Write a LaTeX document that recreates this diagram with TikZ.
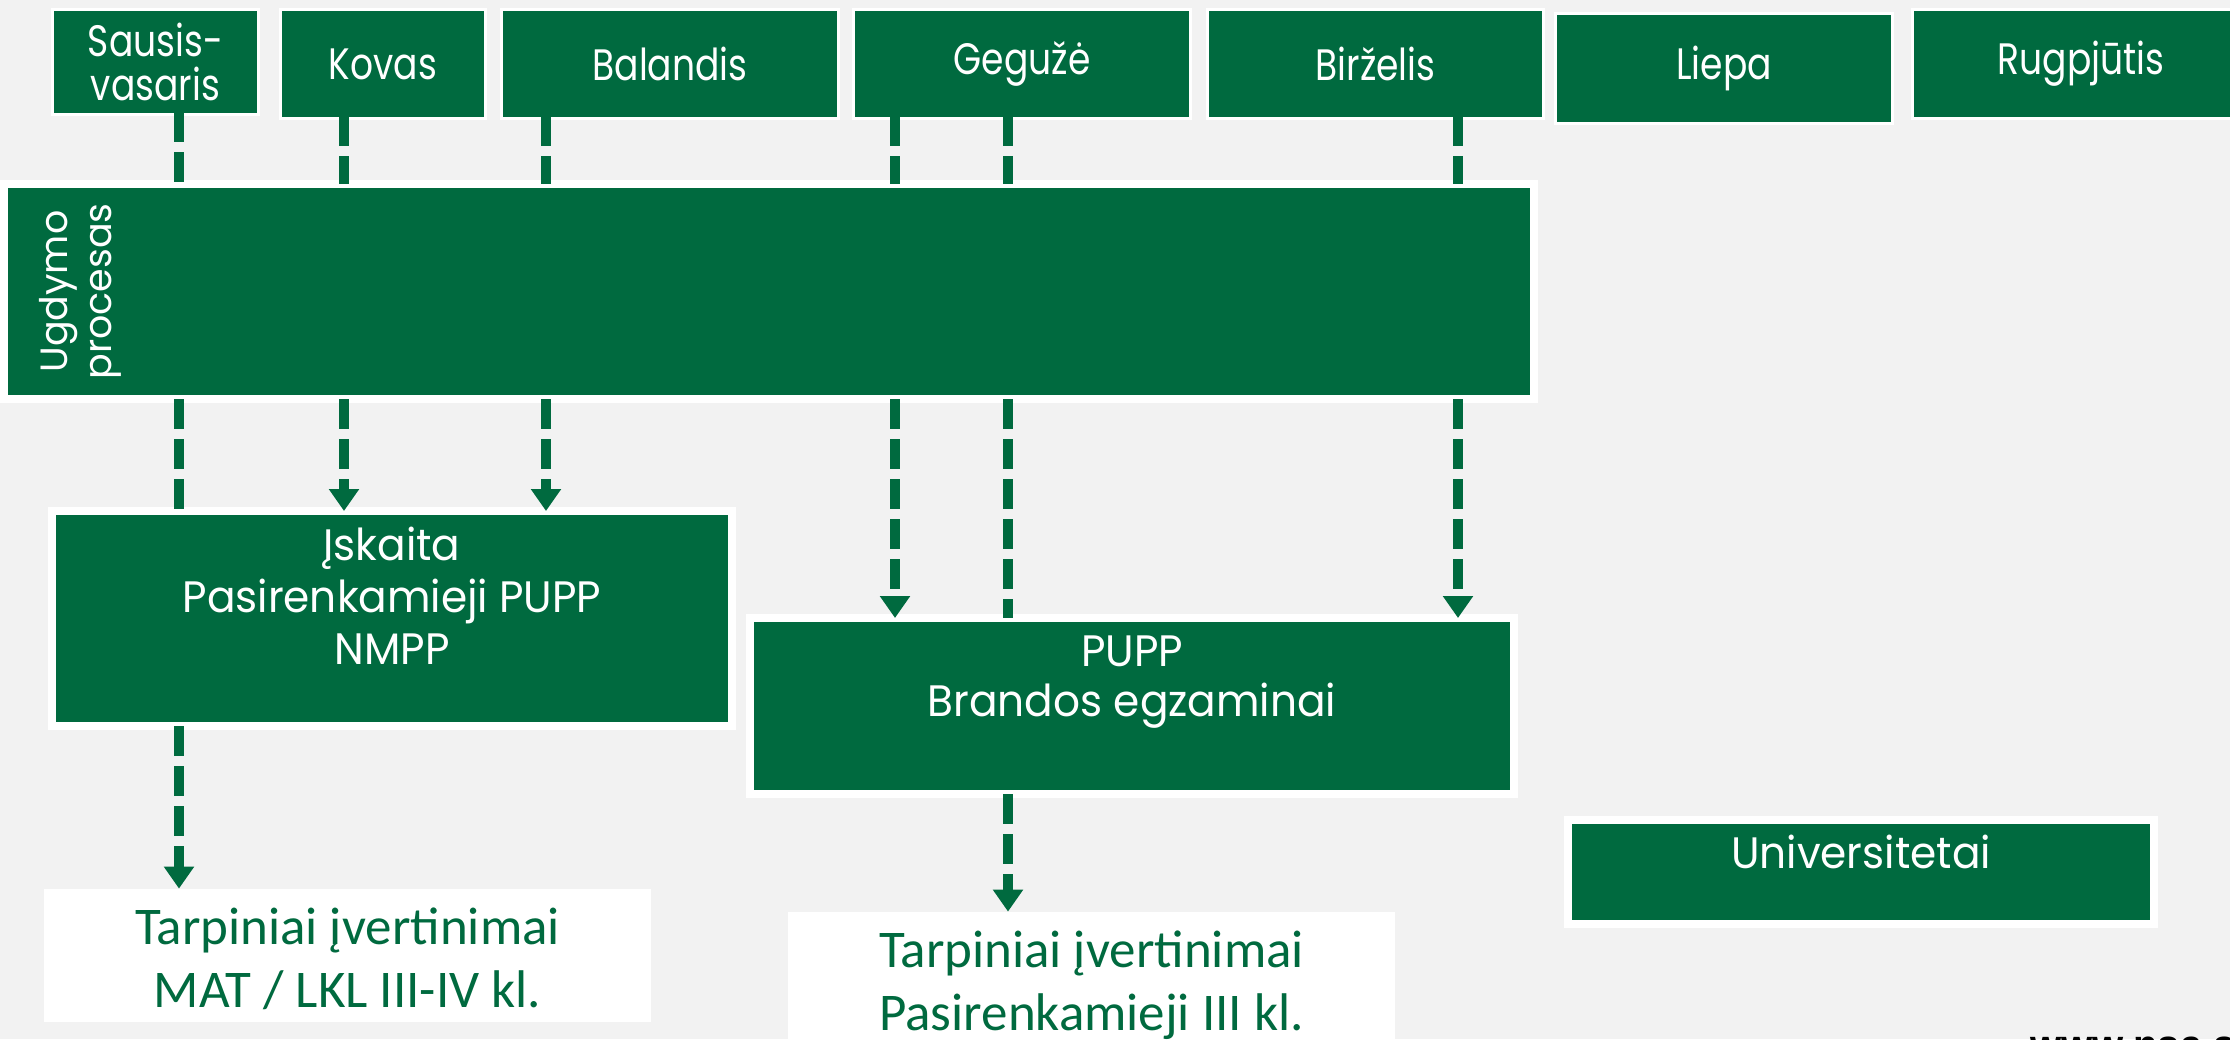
\documentclass[tikz,border=0pt]{standalone}
\usepackage{fontspec}
\setmainfont{Poppins}[FakeStretch=0.82]
\newfontfamily\widefont{Poppins}[FakeStretch=0.96]
\newfontfamily\ugfont{Poppins}
\newfontfamily\calibrifont{Carlito}
\newfontfamily\urlfont{Liberation Sans}
\usetikzlibrary{arrows.meta}
\definecolor{grn}{RGB}{0,106,63}
\definecolor{bgc}{RGB}{242,242,242}
\newcommand\monthfont{\fontsize{22}{22}\selectfont}
\newcommand\boxfont{\widefont\fontsize{22}{26}\selectfont}
\newcommand\tarpfont{\calibrifont\fontsize{26.5}{31.5}\selectfont}
\begin{document}
\begin{tikzpicture}[x=0.5pt,y=-0.5pt,
  mbox/.style={fill=grn, draw=white, line width=1.5pt, inner sep=0pt, text=white, align=center, font=\monthfont},
  bbox/.style={fill=grn, draw=white, line width=4pt, inner sep=0pt},
  wbox/.style={fill=white, draw=none, inner sep=0pt},
  wlbl/.style={text=white, inner sep=0pt, align=center, font=\boxfont},
  glbl/.style={text=grn, inner sep=0pt, align=center, font=\tarpfont},
  seg/.style={draw=grn, line width=5pt, dash pattern=on 15pt off 5pt, shorten <=-2pt, shorten >=-2pt},
  arr/.style={seg, -{Triangle[width=14.5pt,length=11pt]}}]
\fill[bgc] (0,0) rectangle (2230,1039);
\useasboundingbox (0,0) rectangle (2230,1039);

% month boxes
\node[mbox, minimum width=103pt, minimum height=52.5pt] (sausis) at (155.5,62) {Sausis-\\vasaris};
\node[mbox, minimum width=102.5pt, minimum height=54.5pt] (kovas) at (383,64) {Kovas};
\node[mbox, minimum width=168.5pt, minimum height=54.5pt] (balandis) at (670,64) {Balandis};
\node[mbox, minimum width=168.5pt, minimum height=54.5pt] (geguze) at (1022,64) {Gegužė};
\node[mbox, minimum width=168pt, minimum height=54.5pt] (birzelis) at (1375.5,64) {Birželis};
\node[mbox, minimum width=168.5pt, minimum height=55pt] (liepa) at (1724,68.5) {Liepa};
\node[mbox, minimum width=168.5pt, minimum height=54.5pt] (rugpjutis) at (2081,64) {Rugpjūtis};

% big boxes
\node[bbox, minimum width=765pt, minimum height=107.5pt] (ugdymo) at (769,291.5) {};
\node[wlbl, rotate=90, anchor=center, font=\ugfont\fontsize{19}{22}\selectfont] (ugdymotxt) at (80,291.5) {Ugdymo\\procesas};

\node[bbox, minimum width=340pt, minimum height=107.5pt] (iskaita) at (392,618.5) {};
\node[wlbl, anchor=north] (iskaitatxt) at (392,527) {Įskaita\\Pasirenkamieji PUPP\\NMPP};

\node[bbox, minimum width=382pt, minimum height=88pt] (pupp) at (1132,706) {};
\node[wlbl, anchor=north, font=\widefont\fontsize{22}{25}\selectfont] (pupptxt) at (1132,635) {PUPP\\Brandos egzaminai};

\node[bbox, minimum width=293pt, minimum height=52pt] (univ) at (1861,872) {};
\node[wlbl, anchor=base] (univtxt) at (1861,868) {Universitetai};

\node[wbox, minimum width=303.5pt, minimum height=66.5pt] (tarp1) at (347.5,955.5) {};
\node[glbl, anchor=north] (tarp1txt) at (347.5,907) {Tarpiniai įvertinimai\\MAT / LKL III-IV kl.};

\node[wbox, minimum width=303.5pt, minimum height=68pt] (tarp2) at (1091.5,980) {};
\node[glbl, anchor=north] (tarp2txt) at (1091.5,930) {Tarpiniai įvertinimai\\Pasirenkamieji III kl.};

\node[anchor=base west, inner sep=0pt, font=\urlfont\bfseries\fontsize{20}{24}\selectfont] (www) at (2030,1058) {www.nsa.smm.lt};

% connector columns
\coordinate (xa) at (179,0);
\coordinate (xb) at (344,0);
\coordinate (xc) at (546,0);
\coordinate (xd) at (895,0);
\coordinate (xe) at (1008,0);
\coordinate (xf) at (1458,0);

% Sausis-vasaris
\draw[seg] (sausis.south -| xa) -- (ugdymo.north -| xa);
\draw[seg] (ugdymo.south -| xa) -- (iskaita.north -| xa);
\draw[arr, shorten >=0pt] (iskaita.south -| xa) -- (tarp1.north -| xa);
% Kovas
\draw[seg] (kovas.south -| xb) -- (ugdymo.north -| xb);
\draw[arr] (ugdymo.south -| xb) -- (iskaita.north -| xb);
% Balandis
\draw[seg] (balandis.south -| xc) -- (ugdymo.north -| xc);
\draw[arr] (ugdymo.south -| xc) -- (iskaita.north -| xc);
% Geguze 1
\draw[seg] (geguze.south -| xd) -- (ugdymo.north -| xd);
\draw[arr] (ugdymo.south -| xd) -- (pupp.north -| xd);
% Geguze 2
\draw[seg] (geguze.south -| xe) -- (ugdymo.north -| xe);
\draw[seg] (ugdymo.south -| xe) -- (pupp.north -| xe);
\draw[arr, shorten >=0pt] (pupp.south -| xe) -- (tarp2.north -| xe);
% Birzelis
\draw[seg] (birzelis.south -| xf) -- (ugdymo.north -| xf);
\draw[arr] (ugdymo.south -| xf) -- (pupp.north -| xf);
\end{tikzpicture}
\end{document}
